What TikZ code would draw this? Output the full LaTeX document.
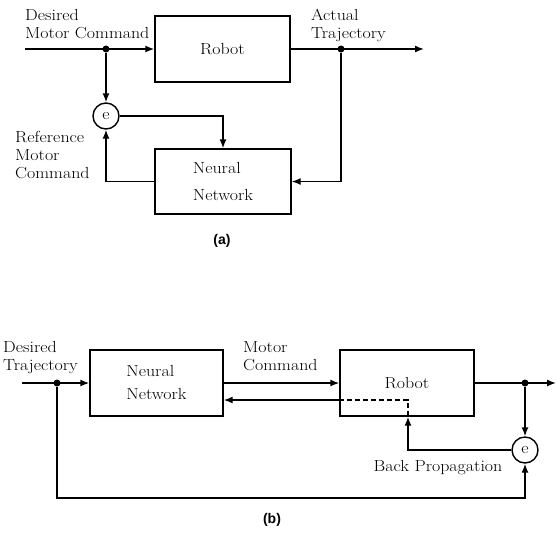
\documentclass[tikz,border=0pt]{standalone}
\usepackage{fontspec}
\setmainfont{Latin Modern Roman}[FakeStretch=1.12]
\newfontfamily\labfont{Liberation Sans}
\usetikzlibrary{arrows.meta}
\begin{document}
\begin{tikzpicture}[x=1pt,y=-1pt,
  every node/.style={font=\fontsize{16}{18}\selectfont},
  arr/.style={line width=1.4pt, -{Latex[length=9pt,width=7pt]}},
  blockbox/.style={draw, line width=1.4pt, inner sep=0pt, align=left},
  sumnode/.style={draw, circle, line width=1.4pt, minimum size=26pt, inner sep=0pt},
  junction/.style={circle, fill, inner sep=0pt, minimum size=7pt},
  txt/.style={align=left, inner sep=0pt, anchor=north west},
  figcap/.style={font=\labfont\bfseries\fontsize{14}{16}\selectfont, inner sep=0pt}]
\useasboundingbox (0,0) rectangle (556,539);

% ---------- (a) ----------
\node[blockbox, minimum width=135pt, minimum height=66pt] (Ra) at (222.5,49) {Robot};
\node[blockbox, minimum width=136pt, minimum height=65pt] (NNa) at (223,181.5) {Neural\\[9pt]Network};
\node[sumnode] (ea) at (106,116) {e};
\coordinate (ina) at (25,49);
\coordinate (outa) at (424,49);
\node[junction] (dota) at (106,49) {};
\node[junction] (dotoa) at (341,49) {};

\draw[arr] (ina) -- (Ra.west);
\draw[arr] (Ra.east) -- (outa);
\draw[arr] (dota) -- (ea.north);
\draw[arr] (ea.east) -| (NNa.north);
\draw[arr] (NNa.west) -| (ea.south);
\draw[arr] (dotoa) |- (NNa.east);

\node[txt] (la1) at (25,9) {Desired\\Motor Command};
\node[txt] (la2) at (311,9) {Actual\\Trajectory};
\node[txt] (la3) at (15,131) {Reference\\Motor\\Command};
\node[figcap] (capa) at (222,241) {(a)};

% ---------- (b) ----------
\node[blockbox, minimum width=133pt, minimum height=66pt] (NNb) at (156.5,383) {Neural\\[5pt]Network};
\node[blockbox, minimum width=134pt, minimum height=66pt] (Rb) at (407,383) {Robot};
\node[sumnode] (eb) at (525,450) {e};
\coordinate (inb) at (22,383);
\coordinate (outb) at (556,383);
\coordinate (bp) at (408,400);
\coordinate (botr) at (525,498);
\node[junction] (dotb) at (57,383) {};
\node[junction] (dotob) at (525,383) {};

\draw[arr] (inb) -- (NNb.west);
\draw[arr] (NNb.east) -- (Rb.west);
\draw[arr] (Rb.west |- bp) -- (NNb.east |- bp);
\draw[line width=1.2pt, dash pattern=on 5pt off 3pt] (Rb.west |- bp) -- (bp) -- (bp |- Rb.south);
\draw[arr] (eb.west) -| (bp |- Rb.south);
\draw[arr] (Rb.east) -- (outb);
\draw[arr] (dotob) -- (eb.north);
\draw[arr] (dotb) |- (botr) -- (eb.south);

\node[txt] (lb1) at (3,341) {Desired\\Trajectory};
\node[txt] (lb2) at (243,341) {Motor\\Command};
\node[inner sep=0pt] (lb3) at (438,468) {Back Propagation};
\node[figcap] (capb) at (272,520) {(b)};
\end{tikzpicture}
\end{document}
